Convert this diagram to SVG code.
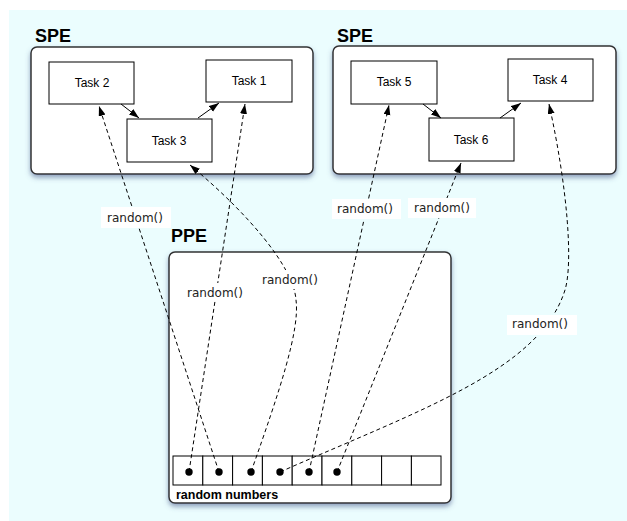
<svg xmlns="http://www.w3.org/2000/svg" width="627" height="521" viewBox="0 0 627 521">
<defs>
<style>
.container{fill:#fff;stroke:#333;stroke-width:1.5;filter:url(#sh)}
.task{fill:#fff;stroke:#000;stroke-width:1}
.tl{font-family:"Liberation Sans",Arial,sans-serif;font-size:12px;fill:#000;text-anchor:middle}
.big{font-family:"Liberation Sans",Arial,sans-serif;font-size:18px;font-weight:bold;fill:#000}
.rl{font-family:"DejaVu Sans","Liberation Sans",sans-serif;font-size:12px;fill:#222;text-anchor:middle}
.lbox{fill:#fff;stroke:none}
.dash{fill:none;stroke:#000;stroke-width:1;stroke-dasharray:4,3;marker-end:url(#ah)}
.solid{fill:none;stroke:#000;stroke-width:1;marker-end:url(#ah)}
.cell{fill:#fff;stroke:#000;stroke-width:1}
</style>
<filter id="sh" x="-10%" y="-10%" width="120%" height="130%">
<feDropShadow dx="0" dy="3" stdDeviation="2.5" flood-color="#4a5a8a" flood-opacity="0.55"/>
</filter>
<marker id="ah" markerUnits="userSpaceOnUse" markerWidth="11" markerHeight="8" refX="10" refY="3.5" orient="auto">
<path d="M0,0 L10,3.5 L0,7 z" fill="#000" stroke="none"/>
</marker>
</defs>
<rect x="9" y="10" width="618" height="511" fill="#ebfdfe"/>

<g id="spe1">
<text class="big" x="35" y="42">SPE</text>
<rect class="container" x="31" y="47" width="282" height="127" rx="6"/>
</g>
<g id="spe2">
<text class="big" x="337" y="42">SPE</text>
<rect class="container" x="333" y="46" width="283" height="128" rx="6"/>
</g>
<g id="ppe">
<text class="big" x="171" y="242">PPE</text>
<rect class="container" x="169" y="252" width="282" height="251" rx="6"/>
<text x="176" y="499" font-family="Liberation Sans,Arial,sans-serif" font-size="12.5" font-weight="bold" fill="#000">random numbers</text>
</g>

<g id="task2"><rect class="task" x="49" y="62" width="85" height="42"/><text class="tl" x="92" y="87">Task 2</text></g>
<g id="task1"><rect class="task" x="206" y="60" width="86" height="42"/><text class="tl" x="249" y="85">Task 1</text></g>
<g id="task3"><rect class="task" x="127" y="119" width="85" height="43"/><text class="tl" x="169" y="145">Task 3</text></g>
<g id="task5"><rect class="task" x="351" y="61" width="86" height="43"/><text class="tl" x="394" y="86">Task 5</text></g>
<g id="task4"><rect class="task" x="508" y="59" width="85" height="42"/><text class="tl" x="550" y="84">Task 4</text></g>
<g id="task6"><rect class="task" x="429" y="118" width="85" height="43"/><text class="tl" x="471" y="144">Task 6</text></g>

<g id="array">
<rect class="cell" x="173" y="456" width="29.8" height="29"/>
<rect class="cell" x="202.8" y="456" width="29.8" height="29"/>
<rect class="cell" x="232.6" y="456" width="29.8" height="29"/>
<rect class="cell" x="262.4" y="456" width="29.8" height="29"/>
<rect class="cell" x="292.2" y="456" width="29.8" height="29"/>
<rect class="cell" x="322" y="456" width="29.8" height="29"/>
<rect class="cell" x="351.8" y="456" width="29.8" height="29"/>
<rect class="cell" x="381.6" y="456" width="29.8" height="29"/>
<rect class="cell" x="411.4" y="456" width="29.6" height="29"/>
</g>

<g id="connectors">
<path class="solid" d="M121,104 L139,118"/>
<path class="solid" d="M198,118 L219,103"/>
<path class="solid" d="M423,104 L441,118"/>
<path class="solid" d="M500,118 L521,103"/>

<path class="dash" d="M189,472 L245,104"/>
<path class="dash" d="M219,472 L99,106"/>
<path class="dash" d="M251,472 C280,390 300,330 296,300 C294,268 250,215 190,165"/>
<path class="dash" d="M280,472 C420,410 540,370 565,290 C573,264 568,190 549,104"/>
<path class="dash" d="M309,472 L389,105"/>
<path class="dash" d="M337,472 L461,163"/>

<rect class="lbox" x="101" y="207" width="70" height="21"/>
<text class="rl" x="135" y="222">random()</text>
<rect class="lbox" x="185" y="283" width="60" height="18"/>
<text class="rl" x="215" y="297">random()</text>
<rect class="lbox" x="260" y="270" width="60" height="19"/>
<text class="rl" x="290" y="284">random()</text>
<rect class="lbox" x="332" y="199" width="69" height="20"/>
<text class="rl" x="365" y="213">random()</text>
<rect class="lbox" x="408" y="198" width="68" height="20"/>
<text class="rl" x="442" y="212">random()</text>
<rect class="lbox" x="507" y="315" width="70" height="20"/>
<text class="rl" x="540" y="328">random()</text>
</g>

<g id="dots" fill="#000">
<circle cx="189" cy="472" r="3.7"/>
<circle cx="219" cy="472" r="3.7"/>
<circle cx="251" cy="472" r="3.7"/>
<circle cx="280" cy="472" r="3.7"/>
<circle cx="309" cy="472" r="3.7"/>
<circle cx="337" cy="472" r="3.7"/>
</g>
</svg>
